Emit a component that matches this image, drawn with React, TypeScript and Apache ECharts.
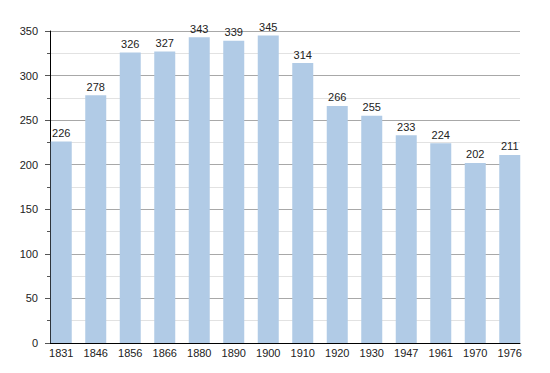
import React, { useEffect, useRef } from "react";
import * as echarts from "echarts";

const years = ["1831", "1846", "1856", "1866", "1880", "1890", "1900", "1910", "1920", "1930", "1947", "1961", "1970", "1976"];
const population = [226, 278, 326, 327, 343, 339, 345, 314, 266, 255, 233, 224, 202, 211];
const yTicks = { min: 0, max: 350, interval: 50 };

export default function App() {
  const ref = useRef<HTMLDivElement>(null);
  useEffect(() => {
    document.body.style.margin = "0";
    const chart = echarts.init(ref.current!, null, { renderer: "svg" });
    const idx = years.map((_, i) => i);
    chart.setOption({
      animation: false,
      backgroundColor: "#ffffff",
      textStyle: { fontFamily: "Liberation Sans, Arial, sans-serif" },
      grid: { left: 50, right: 30, top: 31, bottom: 30, containLabel: false },
      xAxis: {
        type: "value",
        min: -0.326,
        max: 13.297,
        axisLine: { show: true, onZero: false, lineStyle: { color: "#000", width: 1 } },
        axisTick: { show: false },
        splitLine: { show: false },
        axisLabel: {
          customValues: idx,
          formatter: (v: number) => years[Math.round(v)] ?? "",
          color: "#222",
          fontSize: 11,
          margin: 4,
          showMinLabel: true,
          showMaxLabel: true,
        },
      },
      yAxis: {
        type: "value",
        min: yTicks.min,
        max: yTicks.max,
        interval: yTicks.interval,
        axisLine: { show: true, onZero: false, lineStyle: { color: "#000", width: 1 } },
        axisTick: { show: true, length: 5, lineStyle: { color: "#555" } },
        minorTick: { show: true, splitNumber: 2, length: 3, lineStyle: { color: "#555" } },
        axisLabel: { color: "#222", fontSize: 11, margin: 12 },
        splitLine: { show: true, lineStyle: { color: "#a8a8a8", width: 1 } },
        minorSplitLine: { show: true, lineStyle: { color: "#e2e2e2", width: 1 } },
      },
      series: [
        {
          type: "bar",
          barWidth: 21,
          data: population.map((v, i) => [i, v]),
          itemStyle: { color: "#b1cbe6" },
          label: {
            show: true,
            position: "top",
            distance: 3,
            color: "#222",
            fontSize: 11,
            formatter: (p: any) => String(p.value[1]),
          },
        },
      ],
    });
    return () => chart.dispose();
  }, []);
  return <div ref={ref} style={{ width: 550, height: 373 }} />;
}
